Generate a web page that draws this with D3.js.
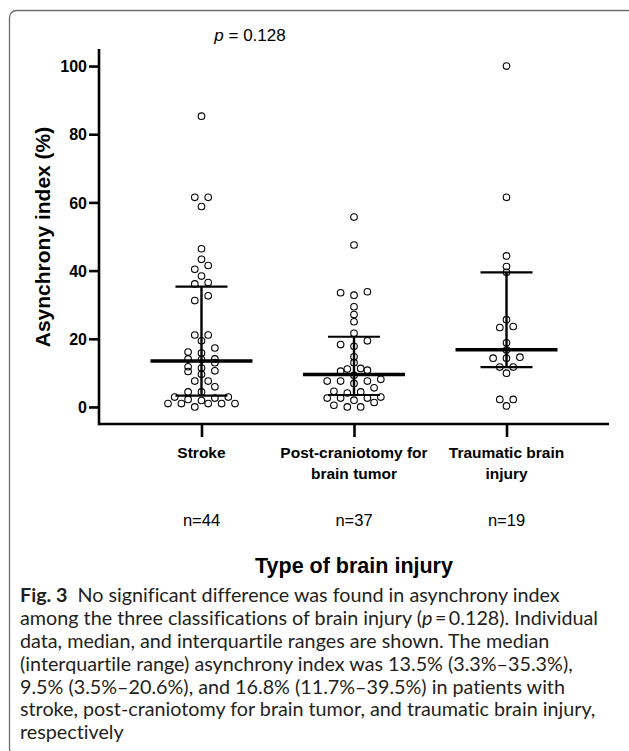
<!DOCTYPE html>
<html>
<head>
<meta charset="utf-8">
<script src="https://cdn.jsdelivr.net/npm/d3@7"></script>
<style>
  html, body { margin: 0; padding: 0; background: #fff; }
  svg { display: block; }
  .cap { font-variant-ligatures: none; }
</style>
</head>
<body>
<script>
// ---------- DATA ----------
const categories = ["Stroke", "Post-craniotomy for brain tumor", "Traumatic brain injury"];
const categoryLines = [["Stroke"], ["Post-craniotomy for", "brain tumor"], ["Traumatic brain", "injury"]];
const sampleSizes = ["n=44", "n=37", "n=19"];

const strokeValues = [85.3, 61.5, 61.5, 58.8, 46.4, 43.3, 41.5, 40.4, 38.4, 36.5, 36.1, 32.6, 31.2,
  21.1, 21.1, 19.4, 17.3, 16.1, 15.8, 14.1, 14.1, 13.9, 13.0, 11.8, 11.4, 10.6, 10.4, 9.6, 7.6, 7.6,
  5.9, 4.4, 4.4, 2.9, 2.9, 2.6, 2.2, 1.9, 1.0, 1.0, 1.0, 1.0, 1.0, 0.0];
const tumorValues = [55.7, 47.5, 33.8, 33.5, 32.8, 29.4, 27.1, 25.0, 21.6, 19.4, 18.3, 17.8, 14.7,
  13.0, 11.3, 11.1, 10.8, 10.5, 9.3, 8.1, 7.6, 7.6, 7.6, 6.9, 5.6, 4.6, 4.4, 4.1, 2.9, 2.6, 2.6, 2.6,
  2.0, 1.3, 0.5, 0.0, 0.0];
const tbiValues = [100, 61.5, 44.3, 41.2, 39.5, 25.6, 23.6, 23.3, 18.8, 16.7, 14.6, 14.3, 14.3,
  11.7, 11.7, 9.9, 2.2, 2.2, 0.3];
const groupValues = [strokeValues, tumorValues, tbiValues];

const medians = [13.5, 9.5, 16.8];
const q1s = [3.3, 3.5, 11.7];
const q3s = [35.3, 20.6, 39.5];

const yTicks = [0, 20, 40, 60, 80, 100];
const pValueText = "0.128";
const yTitle = "Asynchrony index (%)";
const xTitle = "Type of brain injury";
const captionLines = [
  "No significant difference was found in asynchrony index",
  "among the three classifications of brain injury (|p|\u2009=\u20090.128). Individual",
  "data, median, and interquartile ranges are shown. The median",
  "(interquartile range) asynchrony index was 13.5% (3.3%\u201335.3%),",
  "9.5% (3.5%\u201320.6%), and 16.8% (11.7%\u201339.5%) in patients with",
  "stroke, post-craniotomy for brain tumor, and traumatic brain injury,",
  "respectively"
];
const captionLabel = "Fig. 3";

// ---------- LAYOUT ----------
const W = 629, H = 751;
const svg = d3.select("body").append("svg").attr("width", W).attr("height", H);

// frame
svg.append("rect")
  .attr("x", 9.5).attr("y", 10.5).attr("width", 625).attr("height", 745)
  .attr("rx", 7).attr("ry", 7)
  .attr("fill", "none").attr("stroke", "#6d6d6d").attr("stroke-width", 1.3);

const y = d3.scaleLinear().domain([-5, 105]).range([424, 49]);
const x = d3.scalePoint().domain(categories).range([99, 609]).padding(0.672);

const font = "Liberation Sans, Arial, sans-serif";
const axisW = 2.6;
// Y axis
const yAxis = svg.append("g").attr("transform", "translate(99,0)")
  .call(d3.axisLeft(y).tickValues(yTicks).tickSize(10).tickPadding(2).tickFormat(d3.format("d")));
yAxis.select(".domain").remove();
yAxis.selectAll(".tick line").attr("stroke", "#000").attr("stroke-width", axisW);
yAxis.selectAll(".tick text").attr("font-family", font)
  .attr("font-weight", "bold").attr("font-size", 16).attr("fill", "#000").attr("dy", "0.35em");
svg.append("line").attr("x1", 99).attr("x2", 99).attr("y1", y(105)).attr("y2", y(-5) + axisW / 2)
  .attr("stroke", "#000").attr("stroke-width", axisW);

// X axis
const xAxis = svg.append("g").attr("transform", `translate(0,${y(-5)})`)
  .call(d3.axisBottom(x).tickSize(13).tickFormat(""));
xAxis.select(".domain").remove();
xAxis.selectAll(".tick line").attr("stroke", "#000").attr("stroke-width", axisW);
svg.append("line").attr("x1", 99).attr("x2", 609).attr("y1", y(-5)).attr("y2", y(-5))
  .attr("stroke", "#000").attr("stroke-width", axisW);

// category labels
categories.forEach((c, i) => {
  const t = svg.append("text").attr("x", x(c)).attr("y", 458)
    .attr("text-anchor", "middle").attr("font-family", font).attr("font-weight", "bold")
    .attr("font-size", 15.5).attr("fill", "#000");
  categoryLines[i].forEach((ln, j) => {
    t.append("tspan").attr("x", x(c)).attr("dy", j === 0 ? 0 : 21).text(ln);
  });
  svg.append("text").attr("x", x(c)).attr("y", 526).attr("text-anchor", "middle")
    .attr("font-family", font).attr("font-size", 16.5).attr("fill", "#000").text(sampleSizes[i]);
});

// axis titles
svg.append("text").attr("transform", "translate(50,237) rotate(-90)")
  .attr("text-anchor", "middle").attr("font-family", font).attr("font-weight", "bold")
  .attr("font-size", 21).attr("fill", "#000").text(yTitle);
svg.append("text").attr("x", 354).attr("y", 573).attr("text-anchor", "middle")
  .attr("font-family", font).attr("font-weight", "bold").attr("font-size", 21.5)
  .attr("fill", "#000").text(xTitle);

// p value
const pt = svg.append("text").attr("x", 250).attr("y", 41).attr("text-anchor", "middle")
  .attr("font-family", font).attr("font-size", 17).attr("fill", "#000");
pt.append("tspan").attr("font-style", "italic").text("p");
pt.append("tspan").text(" = " + pValueText);

// ---------- BEESWARM (row binning, symmetric spreading) ----------
const BIN = 1.65;      // value units per row
const STEP = 13.4;     // px between neighbours in a row
function swarm(values) {
  const sorted = values.map(v => ({ v })).sort((a, b) => a.v - b.v);
  const rows = [];
  let cur = null;
  sorted.forEach(p => {
    if (!cur || p.v - cur.start >= BIN) { cur = { start: p.v, pts: [] }; rows.push(cur); }
    cur.pts.push(p);
  });
  rows.forEach(r => {
    const n = r.pts.length;
    const slots = [];
    if (n % 2 === 1) {
      slots.push(0);
      for (let k = 1; slots.length < n; k++) { slots.push(-k); slots.push(k); }
    } else {
      for (let k = 0; slots.length < n; k++) { slots.push(-(k + 0.5)); slots.push(k + 0.5); }
    }
    r.pts.forEach((p, i) => { p.dx = slots[i] * STEP; });
  });
  return sorted;
}

categories.forEach((c, i) => {
  const cx = x(c);
  const pts = swarm(groupValues[i]);
  const g = svg.append("g");
  g.append("line").attr("x1", cx).attr("x2", cx).attr("y1", y(q1s[i])).attr("y2", y(q3s[i]))
    .attr("stroke", "#000").attr("stroke-width", 2.4);
  [q1s[i], q3s[i]].forEach(q => {
    g.append("line").attr("x1", cx - 26).attr("x2", cx + 26).attr("y1", y(q)).attr("y2", y(q))
      .attr("stroke", "#000").attr("stroke-width", 2.2);
  });
  g.selectAll("circle").data(pts).join("circle")
    .attr("cx", d => cx + d.dx).attr("cy", d => y(d.v)).attr("r", 3.3)
    .attr("fill", "none").attr("stroke", "#000").attr("stroke-width", 1.1);
  g.append("line").attr("x1", cx - 51).attr("x2", cx + 51).attr("y1", y(medians[i])).attr("y2", y(medians[i]))
    .attr("stroke", "#000").attr("stroke-width", 3.6);
});

// ---------- CAPTION ----------
const capFont = "Lato, Open Sans, sans-serif";
const capG = svg.append("g").attr("fill", "#231f20").attr("class", "cap");
const capY0 = 602, capDY = 22.9, capX = 20;
const capTexts = [];
captionLines.forEach((ln, i) => {
  const t = capG.append("text").attr("x", 0).attr("y", capY0 + i * capDY)
    .attr("font-family", capFont).attr("font-size", 18.8);
  if (i === 0) {
    t.append("tspan").attr("font-weight", "bold").text(captionLabel);
    t.append("tspan").text("\u2002" + ln);
  } else {
    ln.split("|").forEach((part, k) => {
      const s = t.append("tspan").text(part);
      if (k % 2 === 1) s.attr("font-style", "italic");
    });
  }
  capTexts.push(t);
});
const targetW = 578;
const w2 = capTexts[1].node().getComputedTextLength();
const sx = targetW / w2;
capG.attr("transform", `translate(${capX},0) scale(${sx},1)`);
</script>
</body>
</html>
